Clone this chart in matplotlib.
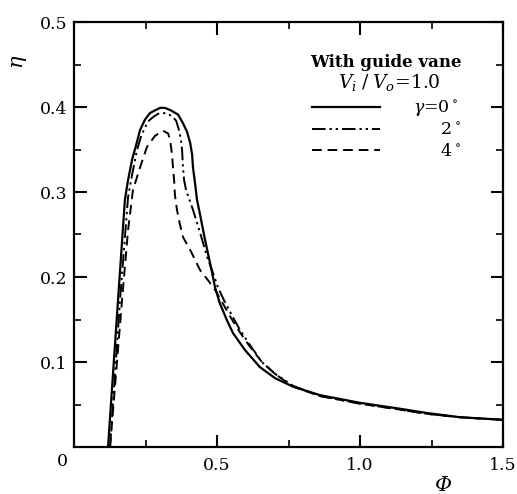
import matplotlib
matplotlib.use("Agg")
import matplotlib.pyplot as plt
from matplotlib.ticker import MultipleLocator, FixedLocator

plt.rcParams['font.family'] = ['DejaVu Serif']
plt.rcParams['mathtext.fontset'] = 'dejavuserif'

# efficiency curves (flow coefficient Phi -> efficiency eta)
phi_0 = [0.119, 0.154, 0.178, 0.189, 0.203, 0.217, 0.231, 0.248, 0.266, 0.283,
         0.301, 0.318, 0.339, 0.364, 0.381, 0.395, 0.406, 0.413, 0.416, 0.423,
         0.430, 0.441, 0.458, 0.476, 0.493, 0.510, 0.535, 0.556, 0.598, 0.650,
         0.703, 0.766, 0.860, 1.000, 1.140, 1.234, 1.350, 1.500]
eta_0 = [0.000, 0.173, 0.291, 0.314, 0.338, 0.355, 0.373, 0.385, 0.393, 0.396,
         0.399, 0.399, 0.396, 0.391, 0.381, 0.371, 0.358, 0.344, 0.329, 0.311,
         0.291, 0.273, 0.244, 0.216, 0.188, 0.169, 0.149, 0.134, 0.114, 0.094,
         0.081, 0.071, 0.061, 0.052, 0.045, 0.040, 0.035, 0.032]

phi_2 = [0.126, 0.161, 0.189, 0.203, 0.220, 0.234, 0.248, 0.262, 0.276, 0.294,
         0.311, 0.329, 0.346, 0.357, 0.367, 0.374, 0.378, 0.381, 0.385, 0.392,
         0.416, 0.441, 0.465, 0.486, 0.503, 0.524, 0.552, 0.580, 0.615, 0.657,
         0.703, 0.766, 0.860, 1.000, 1.140, 1.234, 1.350, 1.500]
eta_2 = [0.000, 0.173, 0.294, 0.320, 0.349, 0.365, 0.376, 0.384, 0.388, 0.392,
         0.393, 0.392, 0.388, 0.384, 0.373, 0.361, 0.349, 0.329, 0.314, 0.302,
         0.279, 0.252, 0.224, 0.205, 0.188, 0.173, 0.155, 0.138, 0.120, 0.100,
         0.086, 0.072, 0.060, 0.051, 0.044, 0.039, 0.035, 0.032]

phi_4 = [0.126, 0.168, 0.189, 0.206, 0.231, 0.255, 0.283, 0.311, 0.329, 0.336,
         0.343, 0.346, 0.350, 0.353, 0.360, 0.371, 0.381, 0.406, 0.441, 0.469,
         0.493, 0.517, 0.545, 0.580, 0.615, 0.657, 0.703, 0.766, 0.860, 1.000,
         1.140, 1.234, 1.350, 1.500]
eta_4 = [0.000, 0.173, 0.255, 0.302, 0.329, 0.353, 0.366, 0.372, 0.369, 0.361,
         0.344, 0.329, 0.314, 0.296, 0.279, 0.261, 0.247, 0.232, 0.208, 0.196,
         0.185, 0.171, 0.154, 0.135, 0.118, 0.100, 0.086, 0.071, 0.060, 0.051,
         0.044, 0.039, 0.035, 0.032]

labels = [r'$\gamma$=0$^\circ$', r'     2$^\circ$', r'     4$^\circ$']

fig = plt.figure(figsize=(5.17, 4.94), dpi=100)
ax = fig.add_axes([74 / 517, 1 - 447 / 494, 429 / 517, 425 / 494])

l0, = ax.plot(phi_0, eta_0, color='black', lw=1.6, ls='-')
l2, = ax.plot(phi_2, eta_2, color='black', lw=1.4, ls=(0, (7, 2, 1.2, 2, 1.2, 2)))
l4, = ax.plot(phi_4, eta_4, color='black', lw=1.4, ls=(0, (5, 3)))

ax.set_xlim(0, 1.5)
ax.set_ylim(0, 0.5)
ax.xaxis.set_major_locator(FixedLocator([0.5, 1.0, 1.5]))
ax.xaxis.set_minor_locator(MultipleLocator(0.25))
ax.yaxis.set_major_locator(FixedLocator([0.1, 0.2, 0.3, 0.4, 0.5]))
ax.yaxis.set_minor_locator(MultipleLocator(0.05))
ax.set_xticklabels(['0.5', '1.0', '1.5'])
ax.set_yticklabels(['0.1', '0.2', '0.3', '0.4', '0.5'])
ax.tick_params(which='both', direction='in', top=True, right=True, labelsize=12.5)
ax.tick_params(which='major', length=9, width=1.5)
ax.tick_params(which='minor', length=5, width=1.2)
ax.tick_params(axis='x', pad=7)
ax.tick_params(axis='y', pad=5)
for s in ax.spines.values():
    s.set_linewidth(1.6)

ax.text(-0.027, -0.035, '0', transform=ax.transAxes, fontsize=12.5, ha='center', va='center')

ax.set_ylabel(r'$\eta$', fontsize=15, rotation=90)
ax.yaxis.set_label_coords(-0.105, 0.906)
ax.set_xlabel('Φ', fontsize=15, fontstyle='italic')
ax.xaxis.set_label_coords(0.86, -0.068)

ax.text(0.727, 0.905, 'With guide vane', transform=ax.transAxes, fontsize=12,
        fontweight='bold', ha='center', va='center')
ax.text(0.735, 0.858, r'$V_i\;/\;V_o$=1.0', transform=ax.transAxes, fontsize=13.5,
        ha='center', va='center')

leg = ax.legend([l0, l2, l4], labels, loc='upper left', bbox_to_anchor=(0.555, 0.82),
                frameon=False, fontsize=12.5, handlelength=3.9, handletextpad=1.9,
                labelspacing=0.2, borderpad=0, borderaxespad=0)

fig.savefig('out.png', dpi=100)
